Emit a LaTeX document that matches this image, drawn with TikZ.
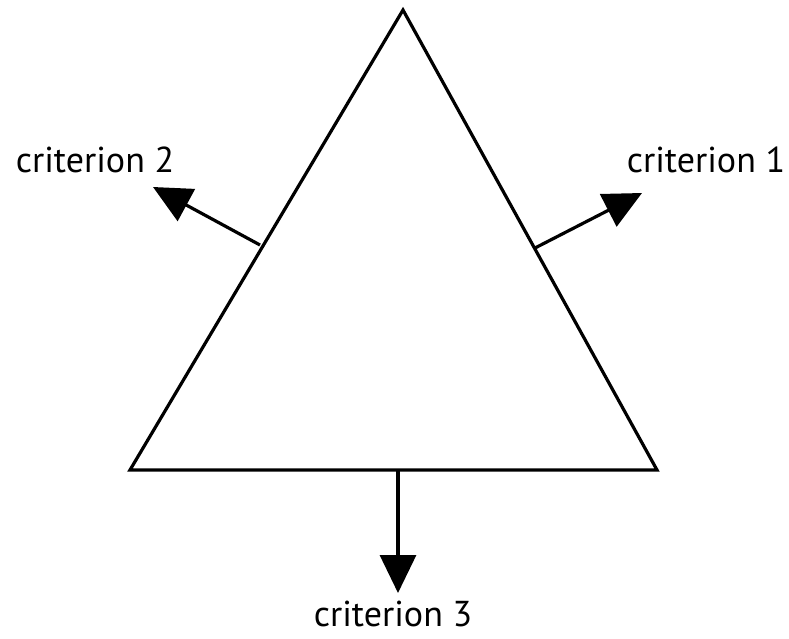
\documentclass[tikz,border=0pt]{standalone}
\usepackage{fontspec}
\setmainfont{PT Sans}
\usetikzlibrary{arrows.meta}
\begin{document}
\begin{tikzpicture}[x=1pt,y=-1pt,
  edge/.style={line width=3.2pt},
  crit/.style={line width=3.2pt,-{Triangle[length=38pt,width=36pt]}},
  lbl/.style={font=\fontsize{36}{40}\selectfont,inner sep=0pt}]
\useasboundingbox (0,0) rectangle (789,639);
\coordinate (top) at (403,10);
\coordinate (bl) at (130,470);
\coordinate (br) at (657,470);
\draw[edge,line join=miter] (top) -- (bl) -- (br) -- cycle;
\coordinate (s1) at (535,248);
\coordinate (s2) at (260,245);
\coordinate (s3) at (398,470);
\coordinate (t1) at (642,193);
\coordinate (t2) at (153,187);
\coordinate (t3) at (398,593);
\draw[crit] (s1) -- (t1);
\draw[crit] (s2) -- (t2);
\draw[crit] (s3) -- (t3);
\node[lbl,anchor=base] (c1) at (706,173) {criterion 1};
\node[lbl,anchor=base] (c2) at (95,173) {criterion 2};
\node[lbl,anchor=base] (c3) at (393,626) {criterion 3};
\end{tikzpicture}
\end{document}
